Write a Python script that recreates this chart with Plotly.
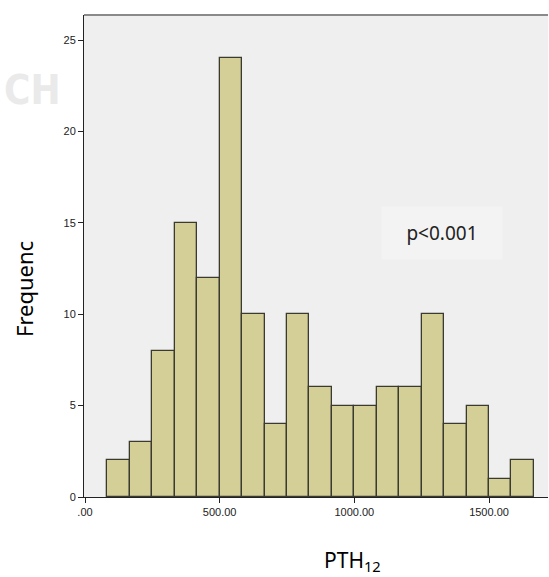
import plotly.graph_objects as go

# Data
bin_lower = [83.33, 166.67, 250.0, 333.33, 416.67, 500.0, 583.33, 666.67, 750.0, 833.33,
             916.67, 1000.0, 1083.33, 1166.67, 1250.0, 1333.33, 1416.67, 1500.0, 1583.33]
bin_width = 83.33
counts = [2, 3, 8, 15, 12, 24, 10, 4, 10, 6, 5, 5, 6, 6, 10, 4, 5, 1, 2]
x_tickvals = [0, 500, 1000, 1500]
x_ticktext = [".00", "500.00", "1000.00", "1500.00"]
y_tickvals = [0, 5, 10, 15, 20, 25]

centers = [b + bin_width / 2 for b in bin_lower]

L, T, W, H = 84, 15, 464, 482  # plot area in pixels


def px(x, y):
    return (x - L) / W, 1 - (y - T) / H


fig = go.Figure()
fig.add_trace(go.Bar(
    x=centers, y=counts, width=[bin_width] * len(counts),
    marker=dict(color="#d3cf97", line=dict(color="#3a3a30", width=1.3)),
    hoverinfo="x+y",
))

fig.update_layout(
    width=549, height=577,
    margin=dict(l=L, r=549 - L - W, t=T, b=577 - T - H),
    paper_bgcolor="white",
    plot_bgcolor="#efefef",
    showlegend=False,
    bargap=0,
    font=dict(family="Liberation Sans, Arial", color="#222222"),
    xaxis=dict(
        range=[-3.7, 1719], tickvals=x_tickvals, ticktext=x_ticktext,
        ticks="outside", ticklen=5, tickcolor="#222", tickwidth=1,
        showline=True, linecolor="#222", linewidth=1,
        showgrid=False, zeroline=False,
        tickfont=dict(size=11, color="#222"),
    ),
    yaxis=dict(
        range=[0, 26.38], tickvals=y_tickvals,
        ticks="outside", ticklen=5, tickcolor="#222", tickwidth=1,
        showline=True, linecolor="#222", linewidth=1,
        showgrid=False, zeroline=False,
        tickfont=dict(size=11, color="#222"),
    ),
)

# top border of plot frame
fig.add_shape(type="line", xref="paper", yref="paper", x0=0, x1=1, y0=1, y1=1,
              line=dict(color="#8a8a8a", width=2))

# axis titles
ax, ay = px(352, 561)
fig.add_annotation(x=ax, y=ay, xref="paper", yref="paper", text="PTH<sub>12</sub>",
                   showarrow=False, xanchor="center", yanchor="middle",
                   font=dict(family="Noto Sans", size=21, color="#000"))
ax, ay = px(24, 289)
fig.add_annotation(x=ax, y=ay, xref="paper", yref="paper", text="Frequenc",
                   showarrow=False, xanchor="center", yanchor="middle", textangle=-90,
                   font=dict(family="Noto Sans", size=22, color="#000"))

# p-value label box
ax, ay = px(442, 233)
fig.add_annotation(
    x=ax, y=ay, xref="paper", yref="paper",
    text="p<0.001", showarrow=False, xanchor="center", yanchor="middle",
    font=dict(family="Noto Sans", size=19, color="#222"),
    bgcolor="#f3f3f3", borderpad=12, width=96, height=28,
)

# faint watermark
ax, ay = px(32, 90)
fig.add_annotation(
    x=ax, y=ay, xref="paper", yref="paper", text="<b>CH</b>", showarrow=False,
    xanchor="center", yanchor="middle",
    font=dict(family="DejaVu Sans Condensed", size=40, color="#eaeaea"),
)

fig.write_html("out.html")
